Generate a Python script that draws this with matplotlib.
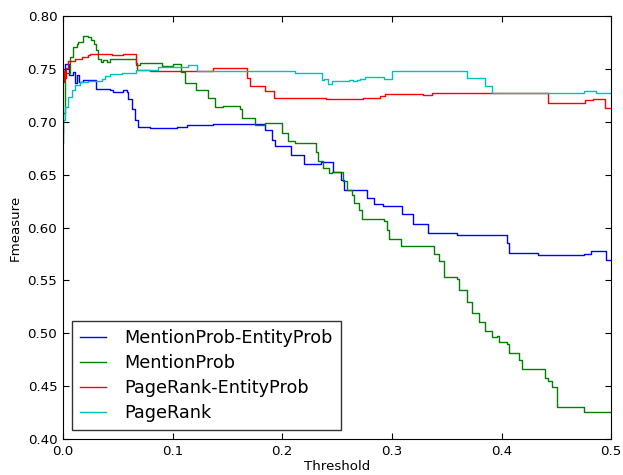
import matplotlib
matplotlib.use('Agg')
import matplotlib.pyplot as plt

# threshold / fmeasure (step curves)
mpe_t = [0.0, 0.0015, 0.0055, 0.0094, 0.011, 0.0125, 0.015, 0.018, 0.030, 0.043,
         0.046, 0.055, 0.058, 0.0596, 0.0626, 0.0657, 0.0687, 0.079, 0.1037, 0.113,
         0.137, 0.184, 0.191, 0.193, 0.208, 0.22, 0.2354, 0.246, 0.2536, 0.256,
         0.277, 0.284, 0.2922, 0.3096, 0.319, 0.3327, 0.359, 0.4048, 0.407, 0.433,
         0.475, 0.482, 0.495, 0.5]
mpe_f = [0.748, 0.755, 0.744, 0.747, 0.737, 0.744, 0.738, 0.740, 0.7315, 0.730,
         0.7284, 0.730, 0.728, 0.722, 0.7126, 0.7016, 0.6953, 0.6945, 0.6953, 0.697,
         0.698, 0.692, 0.683, 0.677, 0.6685, 0.660, 0.662, 0.653, 0.645, 0.636,
         0.628, 0.622, 0.6206, 0.6125, 0.6036, 0.5951, 0.5932, 0.585, 0.5762, 0.574,
         0.575, 0.578, 0.569, 0.569]

mp_t = [0.0, 0.0005, 0.0015, 0.0064, 0.0094, 0.0124, 0.0134, 0.0186, 0.023, 0.026,
        0.028, 0.030, 0.032, 0.035, 0.037, 0.040, 0.043, 0.0666, 0.070, 0.087,
        0.090, 0.100, 0.108, 0.111, 0.121, 0.132, 0.139, 0.146, 0.1615, 0.163,
        0.175, 0.184, 0.200, 0.205, 0.2117, 0.231, 0.233, 0.237, 0.2427, 0.2454,
        0.2555, 0.259, 0.2637, 0.2655, 0.270, 0.273, 0.293, 0.296, 0.2977, 0.3084,
        0.3388, 0.343, 0.3479, 0.3595, 0.361, 0.3686, 0.373, 0.3795, 0.385, 0.391,
        0.396, 0.398, 0.405, 0.407, 0.416, 0.419, 0.44, 0.4425, 0.446, 0.4507,
        0.475, 0.5]
mp_f = [0.680, 0.708, 0.746, 0.7615, 0.771, 0.774, 0.776, 0.781, 0.780, 0.7773,
        0.774, 0.7678, 0.760, 0.757, 0.759, 0.757, 0.760, 0.754, 0.7555, 0.756,
        0.753, 0.755, 0.7475, 0.7367, 0.730, 0.7225, 0.714, 0.715, 0.712, 0.7035,
        0.697, 0.699, 0.690, 0.682, 0.680, 0.6715, 0.663, 0.656, 0.6515, 0.6525,
        0.644, 0.6355, 0.631, 0.623, 0.6165, 0.608, 0.6065, 0.5976, 0.5888, 0.5828,
        0.575, 0.5683, 0.5535, 0.551, 0.541, 0.5296, 0.519, 0.5106, 0.502, 0.4965,
        0.497, 0.4917, 0.4898, 0.481, 0.4747, 0.466, 0.4577, 0.455, 0.449, 0.4303,
        0.4255, 0.4255]

pre_t = [0.0, 0.0008, 0.0015, 0.0025, 0.0048, 0.011, 0.017, 0.023, 0.0246, 0.045,
         0.055, 0.0666, 0.068, 0.079, 0.137, 0.168, 0.1706, 0.184, 0.1925, 0.24,
         0.2737, 0.289, 0.2938, 0.3285, 0.3367, 0.4425, 0.476, 0.4836, 0.4945, 0.5]
pre_f = [0.738, 0.748, 0.742, 0.751, 0.758, 0.760, 0.7615, 0.763, 0.7647, 0.763,
         0.7647, 0.7556, 0.749, 0.7485, 0.751, 0.7417, 0.734, 0.729, 0.7228, 0.7215,
         0.7228, 0.7246, 0.7269, 0.7255, 0.727, 0.718, 0.7205, 0.722, 0.7136, 0.7136]

pr_t = [0.0, 0.0005, 0.0015, 0.0048, 0.0079, 0.011, 0.0155, 0.023, 0.0353, 0.038,
        0.043, 0.054, 0.067, 0.087, 0.114, 0.122, 0.2117, 0.2363, 0.238, 0.2418,
        0.2454, 0.261, 0.2646, 0.268, 0.271, 0.2755, 0.293, 0.300, 0.3686, 0.385,
        0.391, 0.475, 0.4863, 0.5]
pr_f = [0.690, 0.702, 0.714, 0.7236, 0.730, 0.7347, 0.738, 0.7387, 0.741, 0.7435,
        0.745, 0.7467, 0.749, 0.752, 0.7536, 0.7485, 0.7464, 0.740, 0.741, 0.7357,
        0.7385, 0.7395, 0.7385, 0.740, 0.741, 0.7426, 0.7405, 0.748, 0.7417, 0.734,
        0.7277, 0.7293, 0.7277, 0.7277]

fig = plt.figure(figsize=(6.23, 4.75), dpi=100)
ax = fig.add_axes([0.101, 0.0758, 0.880, 0.890])

ax.plot(mpe_t, mpe_f, color='#0000ff', lw=1.0, drawstyle='steps-post', label='MentionProb-EntityProb')
ax.plot(mp_t, mp_f, color='#008000', lw=1.0, drawstyle='steps-post', label='MentionProb')
ax.plot(pre_t, pre_f, color='#ff0000', lw=1.0, drawstyle='steps-post', label='PageRank-EntityProb')
ax.plot(pr_t, pr_f, color='#00bfbf', lw=1.0, drawstyle='steps-post', label='PageRank')

ax.set_xlim(0, 0.5)
ax.set_ylim(0.40, 0.80)
ax.set_xticks([0.0, 0.1, 0.2, 0.3, 0.4, 0.5])
ax.set_xticklabels(['0.0', '0.1', '0.2', '0.3', '0.4', '0.5'])
ax.set_yticks([0.40, 0.45, 0.50, 0.55, 0.60, 0.65, 0.70, 0.75, 0.80])
ax.set_yticklabels(['%.2f' % v for v in [0.40, 0.45, 0.50, 0.55, 0.60, 0.65, 0.70, 0.75, 0.80]])
ax.tick_params(direction='in', top=True, right=True, length=4, labelsize=9.6, pad=4)
ax.set_xlabel('Threshold', fontsize=9.6, labelpad=2)
ax.set_ylabel('Fmeasure', fontsize=9.6)

leg = ax.legend(loc='lower left', fontsize=12.7, fancybox=False, borderaxespad=0.5,
                borderpad=0.45, handlelength=1.5, handletextpad=1.05, labelspacing=0.4)
leg.get_frame().set_edgecolor('black')

fig.savefig('out.png', dpi=100)
